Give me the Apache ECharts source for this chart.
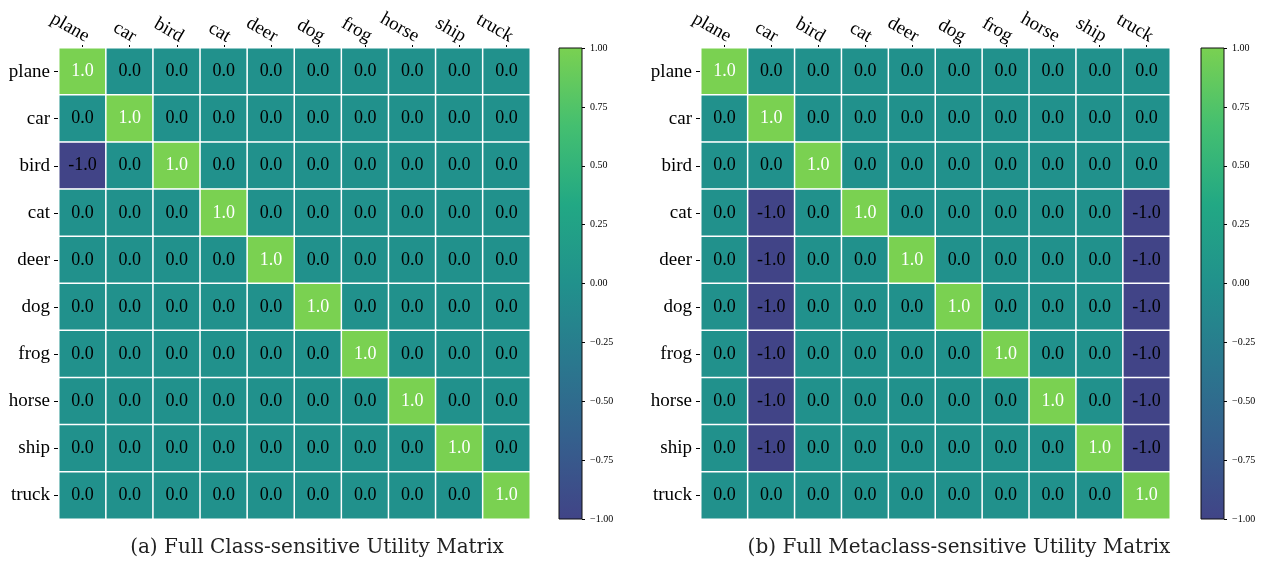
<!DOCTYPE html>
<html>
<head>
<meta charset="utf-8">
<script src="https://cdn.jsdelivr.net/npm/echarts@6/dist/echarts.min.js"></script>
<style>
  html, body { margin: 0; padding: 0; background: #fff; }
  #chart { width: 1268px; height: 563px; }
</style>
</head>
<body>
<div id="chart"></div>
<script>
const classes = ['plane', 'car', 'bird', 'cat', 'deer', 'dog', 'frog', 'horse', 'ship', 'truck'];

// rows = true class, cols = predicted class
const classMatrix = [
  [1, 0, 0, 0, 0, 0, 0, 0, 0, 0],
  [0, 1, 0, 0, 0, 0, 0, 0, 0, 0],
  [-1, 0, 1, 0, 0, 0, 0, 0, 0, 0],
  [0, 0, 0, 1, 0, 0, 0, 0, 0, 0],
  [0, 0, 0, 0, 1, 0, 0, 0, 0, 0],
  [0, 0, 0, 0, 0, 1, 0, 0, 0, 0],
  [0, 0, 0, 0, 0, 0, 1, 0, 0, 0],
  [0, 0, 0, 0, 0, 0, 0, 1, 0, 0],
  [0, 0, 0, 0, 0, 0, 0, 0, 1, 0],
  [0, 0, 0, 0, 0, 0, 0, 0, 0, 1]
];

const metaMatrix = [
  [1, 0, 0, 0, 0, 0, 0, 0, 0, 0],
  [0, 1, 0, 0, 0, 0, 0, 0, 0, 0],
  [0, 0, 1, 0, 0, 0, 0, 0, 0, 0],
  [0, -1, 0, 1, 0, 0, 0, 0, 0, -1],
  [0, -1, 0, 0, 1, 0, 0, 0, 0, -1],
  [0, -1, 0, 0, 0, 1, 0, 0, 0, -1],
  [0, -1, 0, 0, 0, 0, 1, 0, 0, -1],
  [0, -1, 0, 0, 0, 0, 0, 1, 0, -1],
  [0, -1, 0, 0, 0, 0, 0, 0, 1, -1],
  [0, 0, 0, 0, 0, 0, 0, 0, 0, 1]
];

const captions = ['(a) Full Class-sensitive Utility Matrix', '(b) Full Metaclass-sensitive Utility Matrix'];

// viridis cut to 0.2 .. 0.8
const cmap = ['#414487', '#355f8d', '#2a788e', '#21918c', '#22a884', '#44bf70', '#7ad151'];

const serif = '"Liberation Serif", "Times New Roman", serif';

function toCells(m) {
  const out = [];
  m.forEach((row, r) => row.forEach((v, c) => out.push([c, r, v])));
  return out;
}

const chart = echarts.init(document.getElementById('chart'));

const heatGrids = [
  {left: 59, top: 48, width: 471, height: 471},
  {left: 701, top: 48, width: 469, height: 471}
];
const barGrids = [
  {left: 559, top: 48, width: 23, height: 471},
  {left: 1201, top: 48, width: 23, height: 471}
];

const gradient = () => new echarts.graphic.LinearGradient(0, 1, 0, 0,
  cmap.map((c, i) => ({offset: i / (cmap.length - 1), color: c})));

const cellText = p => p.value[2] > 0.5 ? '{w|' + p.value[2].toFixed(1) + '}' : p.value[2].toFixed(1);

const grids = [], xAxes = [], yAxes = [], series = [];

[classMatrix, metaMatrix].forEach((m, k) => {
  grids.push(heatGrids[k]);
  xAxes.push({
    gridIndex: 2 * k, type: 'category', data: classes, position: 'top',
    axisLine: {show: false},
    axisTick: {show: true, length: 3, alignWithLabel: true, lineStyle: {color: '#000'}},
    axisLabel: {rotate: 30, margin: 13, padding: [0, -6, 0, 0], fontFamily: serif, fontSize: 19, color: '#000', interval: 0},
    splitLine: {show: false}
  });
  yAxes.push({
    gridIndex: 2 * k, type: 'category', data: classes, inverse: true,
    axisLine: {show: false},
    axisTick: {show: true, length: 5, alignWithLabel: true, lineStyle: {color: '#000'}},
    axisLabel: {margin: 9, fontFamily: serif, fontSize: 19, color: '#000', interval: 0},
    splitLine: {show: false}
  });
  series.push({
    type: 'heatmap', xAxisIndex: 2 * k, yAxisIndex: 2 * k,
    data: toCells(m),
    itemStyle: {borderColor: '#fff', borderWidth: 1.5},
    label: {
      show: true, fontFamily: serif, fontSize: 18, color: '#000',
      formatter: cellText,
      rich: {w: {color: '#fff', fontFamily: serif, fontSize: 18}}
    },
    emphasis: {disabled: true}
  });

  grids.push(Object.assign({show: true, backgroundColor: gradient(), borderColor: '#111', borderWidth: 1}, barGrids[k]));
  xAxes.push({gridIndex: 2 * k + 1, type: 'category', data: [''], show: false});
  yAxes.push({
    gridIndex: 2 * k + 1, type: 'value', min: -1, max: 1, interval: 0.25, position: 'right',
    axisLine: {show: false},
    axisTick: {show: true, length: 3, lineStyle: {color: '#000'}},
    axisLabel: {
      margin: 8, fontFamily: serif, fontSize: 10, color: '#000',
      formatter: v => (v < 0 ? '\u2212' : '') + Math.abs(v).toFixed(2)
    },
    splitLine: {show: false}
  });
});

const capStyle = {fontFamily: '"DejaVu Serif", serif', fontSize: 20, fontWeight: 'normal', color: '#222'};

chart.setOption({
  backgroundColor: '#fff',
  animation: false,
  title: [
    {text: captions[0], left: 312, top: 533, textAlign: 'center', textStyle: capStyle},
    {text: captions[1], left: 954, top: 533, textAlign: 'center', textStyle: capStyle}
  ],
  grid: grids,
  xAxis: xAxes,
  yAxis: yAxes,
  visualMap: {
    show: false, type: 'continuous', min: -1, max: 1, dimension: 2,
    seriesIndex: [0, 1],
    inRange: {color: cmap}
  },
  series: series
});
</script>
</body>
</html>
